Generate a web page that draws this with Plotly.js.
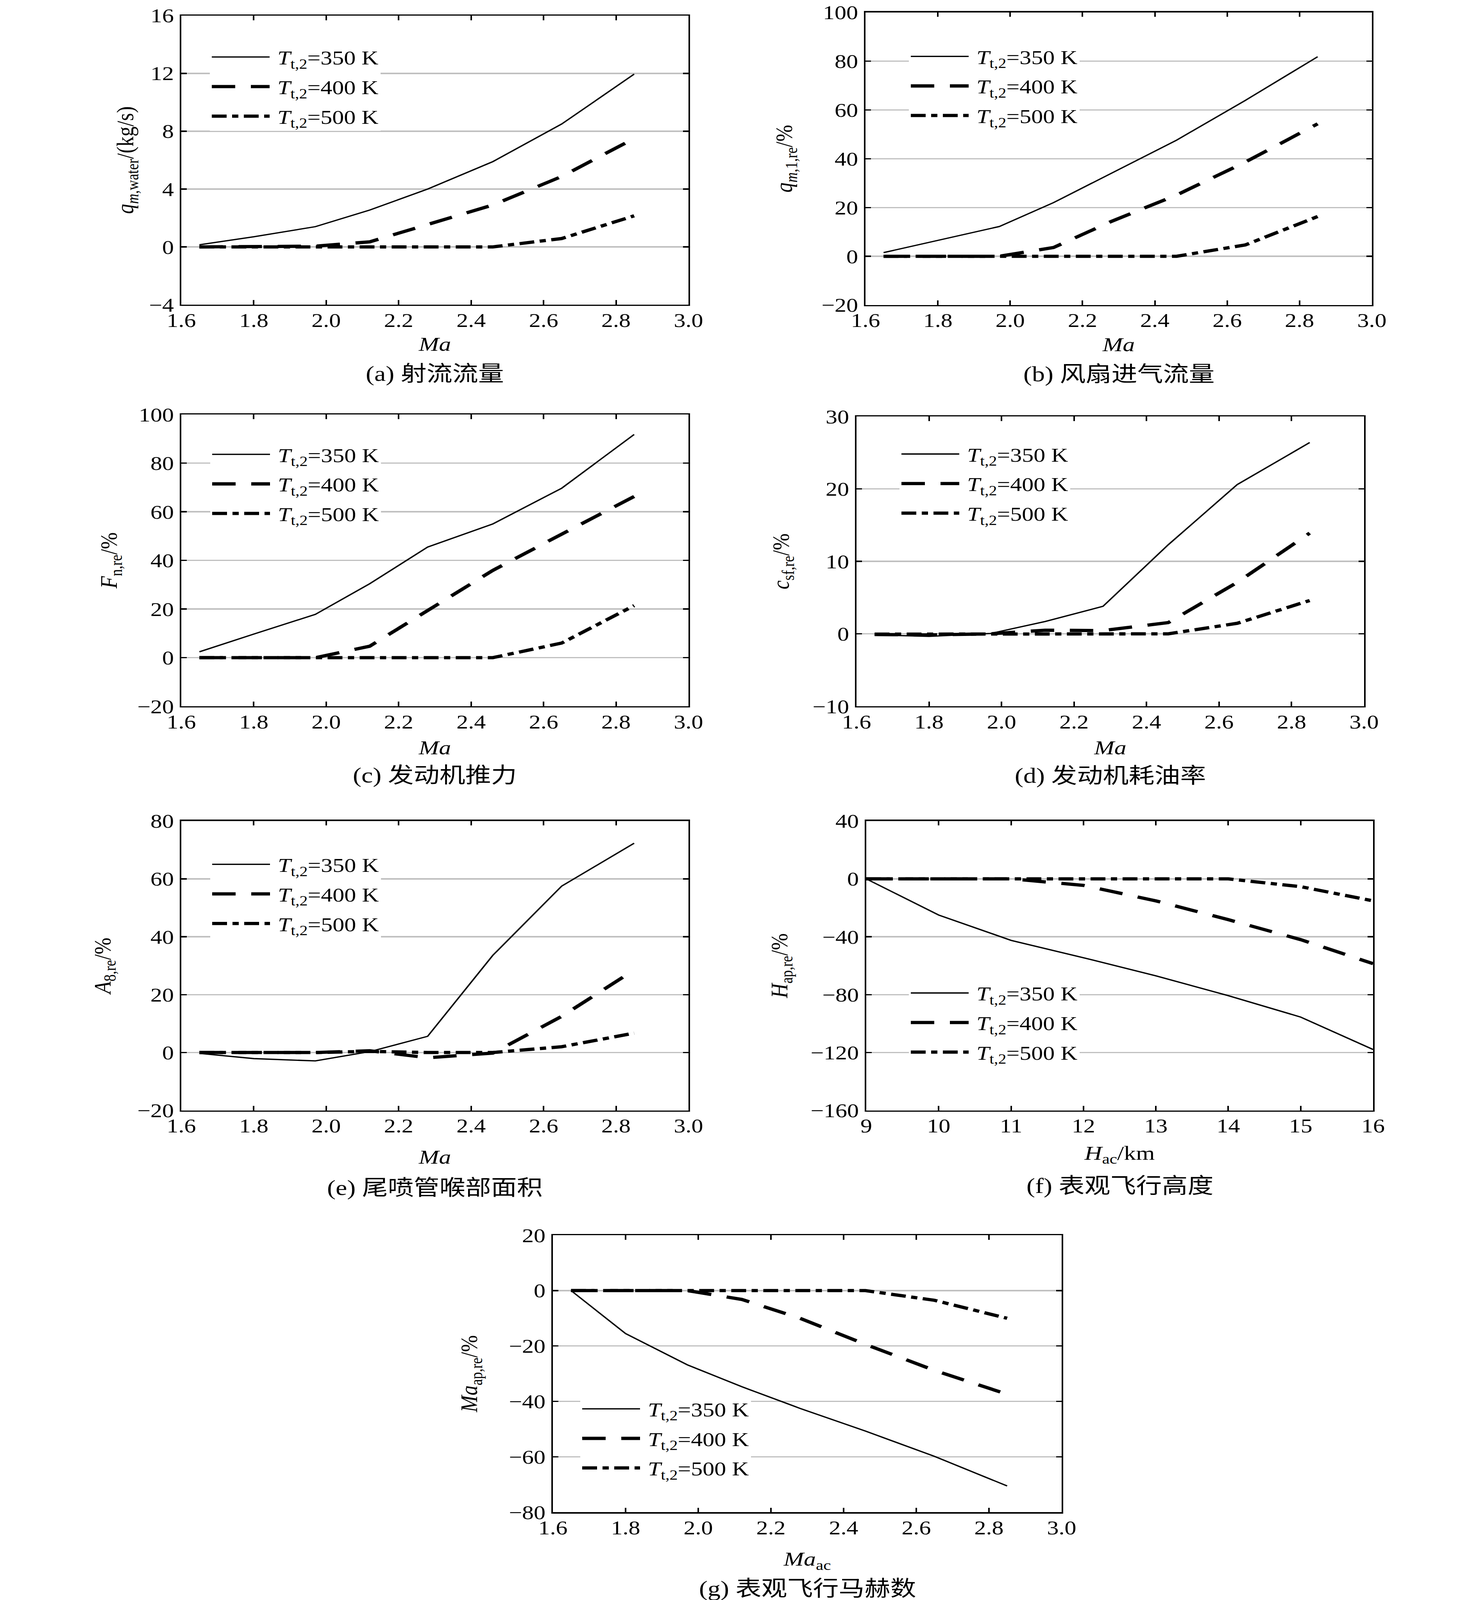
<!DOCTYPE html>
<html>
<head>
<meta charset="utf-8">
<script src="https://cdn.plot.ly/plotly-3.0.1.min.js"></script>
<style>
  html, body { margin: 0; padding: 0; background: #fff; overflow: hidden; }
  #wrap { width: 3780px; height: 4925px; transform-origin: 0 0; }
</style>
</head>
<body>
<div id="wrap"><div id="chart" style="width:3780px;height:4925px"></div></div>
<script>
// flight conditions
var machX = [1.65, 1.80, 1.97, 2.12, 2.28, 2.46, 2.65, 2.85];
var heightX = [9, 10, 11, 12, 13, 14, 15, 16];
var seriesNames = ['\u00a0<i>T</i><sub>t,2</sub>=350 K', '\u00a0<i>T</i><sub>t,2</sub>=400 K', '\u00a0<i>T</i><sub>t,2</sub>=500 K'];

// (a) water jet flow, kg/s
var qWater350 = [0.15, 0.7, 1.4, 2.55, 4.0, 5.9, 8.5, 11.95];
var qWater400 = [0, 0, 0.05, 0.35, 1.55, 2.9, 4.87, 7.5];
var qWater500 = [0, 0, 0, 0, 0, 0, 0.58, 2.15];
// (b) fan inlet flow, %
var qFan350 = [1.5, 6.5, 12.2, 22, 34.1, 47.6, 63.9, 81.8];
var qFan400 = [0, 0, 0, 3.6, 14.3, 25.1, 38.6, 54.3];
var qFan500 = [0, 0, 0, 0, 0, 0, 4.65, 16.3];
// (c) thrust, %
var thrust350 = [2.4, 9.7, 17.8, 30.4, 45.5, 55, 69.7, 91.8];
var thrust400 = [0, 0, 0, 4.7, 19.2, 35.9, 50.8, 66.3];
var thrust500 = [0, 0, 0, 0, 0, 0, 6, 21.4];
// (d) sfc, %
var sfc350 = [-0.15, -0.35, 0.05, 1.7, 3.8, 12.3, 20.6, 26.4];
var sfc400 = [-0.1, -0.15, 0, 0.5, 0.45, 1.55, 7.1, 13.9];
var sfc500 = [-0.05, -0.05, 0, 0, 0, 0, 1.45, 4.6];
// (e) nozzle throat area, %
var a8_350 = [-0.3, -2.1, -2.9, 0.3, 5.6, 33.6, 57.5, 72.3];
var a8_400 = [0, 0, 0, 0.6, -1.8, -0.2, 12.5, 28.5];
var a8_500 = [0, 0, 0, 0.4, 0, 0, 2.0, 6.7];
// (f) apparent altitude, %
var hAp350 = [0, -25, -42.5, -54.5, -67, -80.7, -95.5, -117.9];
var hAp400 = [0, 0, 0, -4.5, -15.2, -28.2, -42, -58.6];
var hAp500 = [0, 0, 0, 0, 0, 0, -5.4, -15.2];
// (g) apparent Mach number, %
var maAp350 = [0, -15.5, -26.8, -34.7, -42.5, -50.7, -59.8, -70.5];
var maAp400 = [0, 0, 0, -3.2, -10, -19.4, -28.8, -37.4];
var maAp500 = [0, 0, 0, 0, 0, 0, -3.5, -10];

var W = 3780, H = 4925;
// if the window is shorter than the figure, squeeze the page vertically so all of it shows
if (window.innerHeight > 1000 && window.innerHeight < H) {
    document.getElementById('wrap').style.transform = 'scale(1,' + (window.innerHeight / H) + ')';
}

var FONT = 'Liberation Serif, Times New Roman, serif';
var CJK = 'Liberation Serif, Noto Sans CJK SC, serif';

// pixel boxes: [left, right, top, bottom]; leg = legend top-left; xso/yso = title standoffs
var panels = [
    {box: [464, 1762, 48, 938], x: machX, ys: [qWater350, qWater400, qWater500], yr: [-4, 16], dy: 4,
     xr: [1.6, 3.0], dx: 0.2, xfmt: '.1f', xTitle: '<i>Ma</i>', yTitle: '<i>q</i><sub><i>m</i>,water</sub>/(kg/s)',
     cap: '(a) 射流流量', capY: 1150, leg: [537, 130], xso: 19, yso: 20},
    {box: [2215, 3511, 38, 939], x: machX, ys: [qFan350, qFan400, qFan500], yr: [-20, 100], dy: 20,
     xr: [1.6, 3.0], dx: 0.2, xfmt: '.1f', xTitle: '<i>Ma</i>', yTitle: '<i>q</i><sub><i>m</i>,1,re</sub>/%',
     cap: '(b) 风扇进气流量', capY: 1152, leg: [2326, 128], xso: 19, yso: 55},
    {box: [464, 1762, 1276, 2174], x: machX, ys: [thrust350, thrust400, thrust500], yr: [-20, 100], dy: 20,
     xr: [1.6, 3.0], dx: 0.2, xfmt: '.1f', xTitle: '<i>Ma</i>', yTitle: '<i>F</i><sub>n,re</sub>/%',
     cap: '(c) 发动机推力', capY: 2386, leg: [538, 1353], xso: 25, yso: 32},
    {box: [2192, 3491, 1282, 2174], x: machX, ys: [sfc350, sfc400, sfc500], yr: [-10, 30], dy: 10,
     xr: [1.6, 3.0], dx: 0.2, xfmt: '.1f', xTitle: '<i>Ma</i>', yTitle: '<i>c</i><sub>sf,re</sub>/%',
     cap: '(d) 发动机耗油率', capY: 2388, leg: [2302, 1352], xso: 26, yso: 40},
    {box: [464, 1762, 2527, 3418], x: machX, ys: [a8_350, a8_400, a8_500], yr: [-20, 80], dy: 20,
     xr: [1.6, 3.0], dx: 0.2, xfmt: '.1f', xTitle: '<i>Ma</i>', yTitle: '<i>A</i><sub>8,re</sub>/%',
     cap: '(e) 尾喷管喉部面积', capY: 3656, leg: [538, 2615], xso: 42, yso: 48},
    {box: [2217, 3514, 2527, 3418], x: heightX, ys: [hAp350, hAp400, hAp500], yr: [-160, 40], dy: 40,
     xr: [9, 16], dx: 1, xfmt: 'd', xTitle: '<i>H</i><sub>ac</sub>/km', yTitle: '<i>H</i><sub>ap,re</sub>/%',
     cap: '(f) 表观飞行高度', capY: 3650, leg: [2326, 3011], xso: 29, yso: 39},
    {box: [1415, 2717, 3802, 4655], x: machX, ys: [maAp350, maAp400, maAp500], yr: [-80, 20], dy: 20,
     xr: [1.6, 3.0], dx: 0.2, xfmt: '.1f', xTitle: '<i>Ma</i><sub>ac</sub>', yTitle: '<i>Ma</i><sub>ap,re</sub>/%',
     cap: '(g) 表观飞行马赫数', capY: 4890, leg: [1485, 4291], xso: 42, yso: 61}
];

var lineStyles = [
    {color: '#000', width: 4},
    {color: '#000', width: 10, dash: '60px,40px'},
    {color: '#000', width: 10, dash: '38px,14px,16px,14px'}
];

var data = [];
var layout = {
    width: W,
    height: H,
    margin: {l: 0, r: 0, t: 0, b: 0},
    paper_bgcolor: '#fff',
    plot_bgcolor: 'rgba(0,0,0,0)',
    font: {family: FONT, size: 60, color: '#000'},
    showlegend: true,
    annotations: []
};

panels.forEach(function(p, i) {
    var n = i + 1;
    var suffix = n === 1 ? '' : String(n);
    var xa = 'x' + suffix;
    var ya = 'y' + suffix;
    var legKey = 'legend' + suffix;

    for (var s = 0; s < 3; s++) {
        data.push({
            x: p.x,
            y: p.ys[s],
            name: seriesNames[s],
            type: 'scatter',
            mode: 'lines',
            line: lineStyles[s],
            xaxis: xa,
            yaxis: ya,
            legend: legKey,
            legendgroup: legKey + '_' + s,
            hoverinfo: 'skip'
        });
    }

    var common = {
        showline: true,
        linecolor: '#000',
        linewidth: 4,
        mirror: 'ticks',
        ticks: 'inside',
        ticklen: 14,
        tickwidth: 4,
        tickcolor: '#000',
        zeroline: false,
        tickfont: {family: FONT, size: 60, color: '#000'}
    };

    layout['xaxis' + suffix] = Object.assign({}, common, {
        domain: [p.box[0] / W, p.box[1] / W],
        anchor: ya,
        range: p.xr,
        dtick: p.dx,
        tick0: p.xr[0],
        tickformat: p.xfmt,
        showgrid: false,
        ticklabelstandoff: -8,
        title: {text: p.xTitle, font: {family: FONT, size: 62}, standoff: p.xso}
    });
    layout['yaxis' + suffix] = Object.assign({}, common, {
        domain: [1 - p.box[3] / H, 1 - p.box[2] / H],
        anchor: xa,
        range: p.yr,
        dtick: p.dy,
        tick0: p.yr[0],
        showgrid: true,
        gridcolor: '#c0c0c0',
        gridwidth: 4,
        ticklabelstandoff: 3,
        title: {text: p.yTitle, font: {family: FONT, size: 62}, standoff: p.yso}
    });

    layout[legKey] = {
        x: p.leg[0] / W,
        y: 1 - p.leg[1] / H,
        xanchor: 'left',
        yanchor: 'top',
        bgcolor: '#fff',
        borderwidth: 0,
        itemwidth: 148,
        traceorder: 'grouped',
        tracegroupgap: 10,
        font: {family: FONT, size: 60, color: '#000'}
    };

    layout.annotations.push({
        xref: 'paper', yref: 'paper',
        x: (p.box[0] + p.box[1]) / 2 / W,
        y: 1 - p.capY / H,
        xanchor: 'center', yanchor: 'middle',
        text: p.cap,
        showarrow: false,
        font: {family: CJK, size: 66, color: '#000'}
    });
});

Plotly.newPlot('chart', data, layout, {staticPlot: true});
</script>
</body>
</html>
